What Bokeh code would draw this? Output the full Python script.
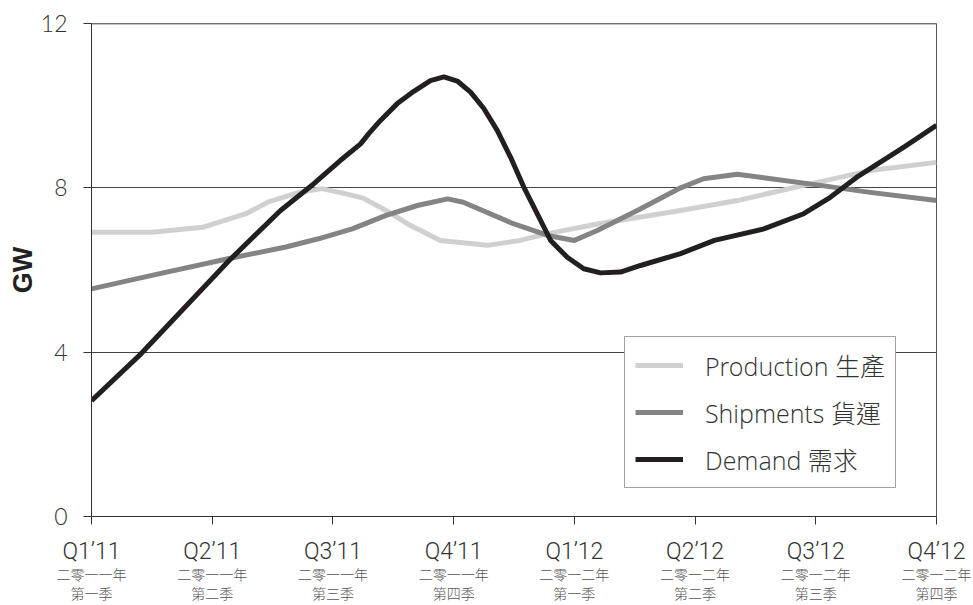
from bokeh.plotting import figure
from bokeh.models import LinearAxis, FixedTicker, Range1d, Legend, LegendItem, Span
from bokeh.embed import file_html
from bokeh.resources import INLINE

# ---------------- data ----------------
quarter_labels = ["Q1\u201911", "Q2\u201911", "Q3\u201911", "Q4\u201911",
                  "Q1\u201912", "Q2\u201912", "Q3\u201912", "Q4\u201912"]
year_cn = ["二零一一年", "二零一一年", "二零一一年", "二零一一年",
           "二零一二年", "二零一二年", "二零一二年", "二零一二年"]
season_cn = ["第一季", "第二季", "第三季", "第四季",
             "第一季", "第二季", "第三季", "第四季"]
y_ticks = [0, 4, 8, 12]

prod_q = [0, 0.5, 0.92, 1.28, 1.46, 1.72, 1.91, 2.10, 2.25, 2.44, 2.62, 2.89, 3.28,
          3.55, 3.77, 4.19, 4.55, 4.88, 5.35, 5.90, 6.45, 7.0]
prod_gw = [6.92, 6.92, 7.04, 7.37, 7.65, 7.89, 7.98, 7.86, 7.75, 7.45, 7.12, 6.72, 6.60,
           6.72, 6.88, 7.12, 7.29, 7.45, 7.69, 8.06, 8.42, 8.62]

ship_q = [0, 0.5, 1.14, 1.61, 1.88, 2.16, 2.44, 2.70, 2.95, 3.08, 3.50, 3.78,
          4.00, 4.19, 4.55, 4.88, 5.07, 5.35, 5.63, 6.04, 6.45, 7.0]
ship_gw = [5.54, 5.87, 6.28, 6.56, 6.76, 7.00, 7.33, 7.57, 7.73, 7.65, 7.12, 6.84,
           6.72, 6.96, 7.49, 8.00, 8.22, 8.33, 8.22, 8.06, 7.89, 7.69]

dem_q = [0, 0.41, 1.14, 1.566, 1.842, 2.063, 2.229, 2.297, 2.394, 2.533, 2.670, 2.808,
         2.919, 3.030, 3.140, 3.250, 3.361, 3.471, 3.581, 3.692, 3.803, 3.941, 4.078,
         4.217, 4.382, 4.548, 4.88, 5.16, 5.57, 5.90, 6.12, 6.34, 6.73, 7.0]
dem_gw = [2.82, 3.96, 6.23, 7.45, 8.10, 8.67, 9.07, 9.32, 9.64, 10.05, 10.35, 10.61,
          10.70, 10.60, 10.33, 9.93, 9.40, 8.75, 8.02, 7.37, 6.72, 6.31, 6.03,
          5.93, 5.95, 6.11, 6.40, 6.72, 7.00, 7.37, 7.77, 8.26, 8.99, 9.52]

series_names = ["Production 生產", "Shipments 貨運", "Demand 需求"]

# ---------------- style ----------------
XFONT = "Roboto Light"
YFONT = "Lato Light"
CNFONT = "'Roboto Light', Roboto, 'Noto Sans CJK TC Light', 'Noto Sans CJK TC'"
LEGFONT = "'Open Sans Light', 'Noto Sans CJK TC Light', 'Noto Sans CJK TC'"

p = figure(width=973, height=605, output_backend="svg", toolbar_location=None,
           x_range=Range1d(0, 7), y_range=Range1d(0, 12),
           min_border_left=91, min_border_right=37, min_border_top=23,
           min_border_bottom=89)
p.background_fill_color = "white"
p.border_fill_color = "white"
p.outline_line_color = "#555555"
p.outline_line_width = 1

p.xgrid.visible = False
p.ygrid.ticker = FixedTicker(ticks=[4, 8])
p.ygrid.grid_line_color = "#444444"
p.ygrid.grid_line_width = 1

top_line = Span(location=12, dimension="width", line_color="#8a8a8a", line_width=2)
p.add_layout(top_line)

r_prod = p.line(prod_q, prod_gw, line_color="#d0d0d0", line_width=5, line_join="round")
r_ship = p.line(ship_q, ship_gw, line_color="#848487", line_width=5, line_join="round")
r_dem = p.line(dem_q, dem_gw, line_color="#231f20", line_width=5, line_join="round")

# y axis
ya = p.yaxis[0]
ya.ticker = FixedTicker(ticks=y_ticks)
ya.major_tick_out = 8
ya.major_tick_in = 0
ya.minor_tick_line_color = None
ya.axis_line_color = "#333333"
ya.major_tick_line_color = "#333333"
ya.major_label_text_font = YFONT
ya.major_label_text_font_size = "23px"
ya.major_label_text_color = "#333333"
ya.major_label_standoff = 16
ya.axis_label = "GW"
ya.axis_label_text_font = "Liberation Sans"
ya.axis_label_text_font_style = "bold"
ya.axis_label_text_font_size = "27px"
ya.axis_label_text_color = "#222222"
ya.axis_label_standoff = 0

# x axis (quarter labels)
xa = p.xaxis[0]
xa.ticker = FixedTicker(ticks=list(range(len(quarter_labels))))
xa.major_label_overrides = {i: t for i, t in enumerate(quarter_labels)}
xa.major_tick_out = 8
xa.major_tick_in = 0
xa.minor_tick_line_color = None
xa.axis_line_color = "#333333"
xa.major_tick_line_color = "#333333"
xa.major_label_text_font = XFONT
xa.major_label_text_font_size = "23px"
xa.major_label_text_color = "#333333"
xa.major_label_standoff = 13

def cn_axis(labels, standoff):
    ax = LinearAxis(ticker=FixedTicker(ticks=list(range(len(labels)))))
    ax.major_label_overrides = {i: t for i, t in enumerate(labels)}
    ax.axis_line_color = None
    ax.major_tick_line_color = None
    ax.minor_tick_line_color = None
    ax.major_tick_out = 0
    ax.major_tick_in = 0
    ax.major_label_standoff = standoff
    ax.major_label_text_font = CNFONT
    ax.major_label_text_font_size = "14px"
    ax.major_label_text_color = "#555555"
    return ax

p.add_layout(cn_axis(year_cn, -1), "below")
p.add_layout(cn_axis(season_cn, 0), "below")

legend = Legend(items=[LegendItem(label=series_names[0], renderers=[r_prod]),
                       LegendItem(label=series_names[1], renderers=[r_ship]),
                       LegendItem(label=series_names[2], renderers=[r_dem])],
                location=(533, 28))
legend.label_text_font = LEGFONT
legend.label_text_font_size = "25px"
legend.label_text_color = "#333333"
legend.glyph_width = 48
legend.glyph_height = 24
legend.label_height = 24
legend.spacing = 11
legend.padding = 10
legend.label_standoff = 22
legend.border_line_color = "#444444"
legend.border_line_width = 1
legend.background_fill_color = "white"
legend.background_fill_alpha = 1
legend.margin = 0
p.add_layout(legend)

open("out.html", "w").write(file_html(p, INLINE))
